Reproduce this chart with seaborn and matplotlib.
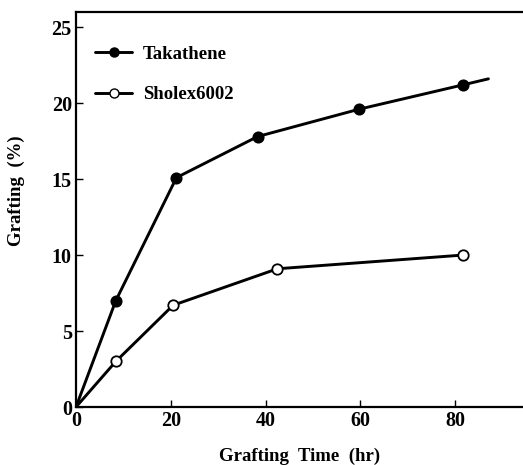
import matplotlib
matplotlib.use("Agg")
import matplotlib.pyplot as plt
import seaborn as sns
import pandas as pd
from matplotlib.lines import Line2D

sns.set_style("ticks")
plt.rcParams['font.family'] = ['Liberation Serif', 'DejaVu Serif']
plt.rcParams['font.weight'] = 'bold'
for k in ["text.color", "axes.labelcolor", "xtick.color", "ytick.color", "axes.edgecolor"]:
    plt.rcParams[k] = "black"

# data
tak_x = [0, 8.4, 21.2, 38.3, 59.7, 81.6]
tak_y = [0, 7.0, 15.1, 17.8, 19.6, 21.2]
tak_line_end_x = [87]
tak_line_end_y = [21.6]
sho_x = [0, 8.4, 20.5, 42.5, 81.6]
sho_y = [0, 3.0, 6.7, 9.1, 10.0]
x_ticks = [0, 20, 40, 60, 80]
y_ticks = [0, 5, 10, 15, 20, 25]

tak_line = pd.DataFrame({"x": tak_x + tak_line_end_x, "y": tak_y + tak_line_end_y})
tak_pts = pd.DataFrame({"x": tak_x[1:], "y": tak_y[1:]})
sho_line = pd.DataFrame({"x": sho_x, "y": sho_y})
sho_pts = pd.DataFrame({"x": sho_x[1:], "y": sho_y[1:]})

fig = plt.figure(figsize=(5.23, 4.65), dpi=100)
ax = fig.add_axes([0.1453, 0.1247, 0.8547, 0.8495])

LW = 2.1
sns.lineplot(data=tak_line, x="x", y="y", ax=ax, color="black", lw=LW, sort=False)
sns.lineplot(data=sho_line, x="x", y="y", ax=ax, color="black", lw=LW, sort=False)
ax.plot(tak_pts["x"], tak_pts["y"], "o", ms=7.5, mfc="black", mec="black", mew=1.2, zorder=5)
ax.plot(sho_pts["x"], sho_pts["y"], "o", ms=7.5, mfc="white", mec="black", mew=1.3, zorder=5)

ax.set_xlim(0, 94.3)
ax.set_ylim(0, 26)
ax.set_xticks(x_ticks)
ax.set_yticks(y_ticks)
ax.tick_params(direction="in", length=5, width=1, labelsize=14.5, pad=3)
for lab in ax.get_xticklabels() + ax.get_yticklabels():
    lab.set_fontweight("bold")
for s in ["left", "bottom", "top"]:
    ax.spines[s].set_linewidth(1.6)
ax.spines["right"].set_visible(False)

ax.set_xlabel("Grafting  Time  (hr)", fontsize=13.5, fontweight="bold", labelpad=12)
ax.set_ylabel("Grafting  (%)", fontsize=13.5, fontweight="bold", labelpad=20)
ax.yaxis.set_label_coords(-0.114, 0.547)

handles = [
    Line2D([], [], color="black", lw=LW, marker="o", ms=6.5, mfc="black", mec="black"),
    Line2D([], [], color="black", lw=LW, marker="o", ms=6.5, mfc="white", mec="black"),
]
leg = ax.legend(handles, ["Takathene", "Sholex6002"], loc="upper left",
                bbox_to_anchor=(0.0425, 0.915), frameon=False, handlelength=2.0,
                handletextpad=0.55, labelspacing=1.25, borderpad=0, borderaxespad=0,
                prop={"weight": "bold", "size": 13.5})

fig.savefig("out.png", dpi=100)
